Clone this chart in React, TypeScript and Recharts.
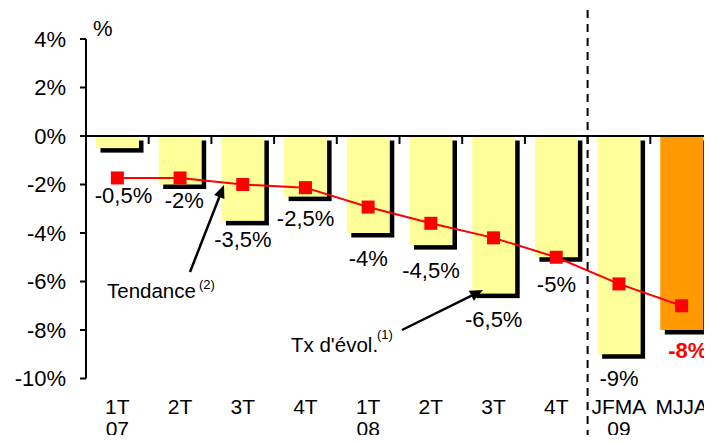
import {
  ComposedChart,
  Bar,
  Line,
  XAxis,
  YAxis,
  Cell,
  LabelList,
  ReferenceLine,
} from "recharts";

const quarters = ["1T", "2T", "3T", "4T", "1T", "2T", "3T", "4T", "JFMA", "MJJA"];
const years = ["07", "07", "07", "07", "08", "08", "08", "08", "09", "09"];
const evolution = [-0.5, -2, -3.5, -2.5, -4, -4.5, -6.5, -5, -9, -8];
const trend = [-1.73, -1.73, -2.0, -2.13, -2.93, -3.6, -4.2, -5.0, -6.1, -7.0];
const yTicks = [-10, -8, -6, -4, -2, 0, 2, 4];

const data = quarters.map((q, i) => ({
  period: `${q} ${years[i]}`,
  quarter: q,
  year: i === 0 || years[i] !== years[i - 1] ? years[i] : "",
  evol: evolution[i],
  trend: trend[i],
}));

const lastIdx = data.length - 1;
const YELLOW = "#FFFF99";
const ORANGE = "#FF9900";
const RED = "#FF0000";
const FONT = "'Liberation Sans', Arial, Helvetica, sans-serif";

// small manual nudges for value labels (they were moved by hand in the original)
const labelNudgeY = [55, 23, 26, 29, 33, 33, 33, 35, 32, 28];
const labelNudgeX = [6, 4, 0, 0, 0, 0, 0, 0, 0, 6];

const ShadowBar = (props: any) => {
  const { x, y, width, height, index } = props;
  const top = Math.min(y, y + height);
  const h = Math.abs(height);
  return (
    <g>
      <rect x={x + 4.5} y={top + 4.5} width={width} height={h} fill="#000" />
      <rect x={x} y={top} width={width} height={h} fill={index === lastIdx ? ORANGE : YELLOW} />
    </g>
  );
};

const SquareDot = (props: any) => {
  const { cx, cy, index } = props;
  return <rect key={index} x={cx - 6.5} y={cy - 6.5} width={13} height={13} fill={RED} />;
};

const ValueLabel = (props: any) => {
  const { x, y, width, height, value, index } = props;
  const bottom = Math.max(y, y + height);
  const isLast = index === lastIdx;
  return (
    <text
      x={x + width / 2 + labelNudgeX[index]}
      y={bottom + labelNudgeY[index]}
      textAnchor="middle"
      fontSize={22}
      fontWeight={isLast ? "bold" : "normal"}
      fill={isLast ? RED : "#000"}
    >
      {`${String(value).replace(".", ",")}%`}
    </text>
  );
};

const PeriodTick = (props: any) => {
  const { x, y, payload } = props;
  const row = data.find((d) => d.period === payload.value);
  if (!row) return null;
  return (
    <g>
      <text x={x} y={y + 35} textAnchor="middle" fontSize={21} fill="#000">
        {row.quarter}
      </text>
      {row.year && (
        <text x={x} y={y + 57} textAnchor="middle" fontSize={21} fill="#000">
          {row.year}
        </text>
      )}
    </g>
  );
};

// zero line with small ticks at the category boundaries
const ZeroAxis = (props: any) => {
  const { x1, x2, y1 } = props;
  const step = (x2 - x1) / data.length;
  return (
    <g>
      <line x1={x1} x2={x2} y1={y1} y2={y1} stroke="#000" strokeWidth={2} />
      {data.slice(1).map((_, i) => (
        <line
          key={i}
          x1={x1 + step * (i + 1)}
          x2={x1 + step * (i + 1)}
          y1={y1}
          y2={y1 + 8}
          stroke="#000"
          strokeWidth={2}
        />
      ))}
    </g>
  );
};

const DashedSplit = (props: any) => {
  const { x1 } = props;
  return (
    <line x1={x1} x2={x1} y1={10} y2={450} stroke="#000" strokeWidth={2} strokeDasharray="8 6" />
  );
};

const Arrow = ({ from, to }: { from: number[]; to: number[] }) => {
  const dx = to[0] - from[0];
  const dy = to[1] - from[1];
  const len = Math.sqrt(dx * dx + dy * dy);
  const ux = dx / len;
  const uy = dy / len;
  const hl = 13;
  const hw = 5.5;
  const bx = to[0] - ux * hl;
  const by = to[1] - uy * hl;
  const pts = [
    [to[0], to[1]],
    [bx - uy * hw, by + ux * hw],
    [bx + uy * hw, by - ux * hw],
  ];
  return (
    <g>
      <line x1={from[0]} y1={from[1]} x2={bx + ux * 2} y2={by + uy * 2} stroke="#000" strokeWidth={2.5} />
      <polygon points={pts.map((p) => p.join(",")).join(" ")} fill="#000" />
    </g>
  );
};

export default function App() {
  return (
    <div
      style={{
        margin: -8,
        width: 712,
        height: 443,
        overflow: "hidden",
        position: "relative",
        background: "#fff",
        fontFamily: FONT,
      }}
    >
      <ComposedChart
        width={716}
        height={470}
        data={data}
        margin={{ top: 39, right: 3, left: 26, bottom: 41.5 }}
        barSize={43}
      >
        <XAxis
          dataKey="period"
          axisLine={false}
          tickLine={false}
          tickSize={0}
          tickMargin={0}
          interval={0}
          height={50}
          tick={<PeriodTick />}
        />
        <YAxis
          domain={[-10, 4]}
          ticks={yTicks}
          interval={0}
          width={60}
          tickFormatter={(v: number) => `${v}%`}
          tick={{ fontSize: 22, fill: "#000" }}
          axisLine={{ stroke: "#000", strokeWidth: 2 }}
          tickLine={{ stroke: "#000", strokeWidth: 2 }}
          tickSize={6}
          tickMargin={14}
        />
        <Bar dataKey="evol" shape={<ShadowBar />} isAnimationActive={false}>
          {data.map((d, i) => (
            <Cell key={d.period} fill={i === lastIdx ? ORANGE : YELLOW} />
          ))}
          <LabelList dataKey="evol" content={<ValueLabel />} />
        </Bar>
        <ReferenceLine y={0} shape={<ZeroAxis />} />
        <ReferenceLine x={data[8].period} position="start" shape={<DashedSplit />} />
        <Line
          dataKey="trend"
          stroke={RED}
          strokeWidth={2}
          dot={<SquareDot />}
          activeDot={false}
          isAnimationActive={false}
        />
      </ComposedChart>
      <svg
        width={712}
        height={443}
        style={{ position: "absolute", left: 0, top: 0, pointerEvents: "none" }}
      >
        <text x={93} y={36} fontSize={22} fill="#000">
          %
        </text>
        <Arrow from={[190, 272]} to={[224, 185]} />
        <text x={107} y={298} fontSize={20.5} fill="#000">
          Tendance
        </text>
        <text x={199} y={289} fontSize={13} fill="#000">
          (2)
        </text>
        <Arrow from={[402, 330]} to={[483, 290]} />
        <text x={291} y={352} fontSize={20.5} fill="#000">
          Tx d'évol.
        </text>
        <text x={377} y={339} fontSize={13} fill="#000">
          (1)
        </text>
      </svg>
    </div>
  );
}
